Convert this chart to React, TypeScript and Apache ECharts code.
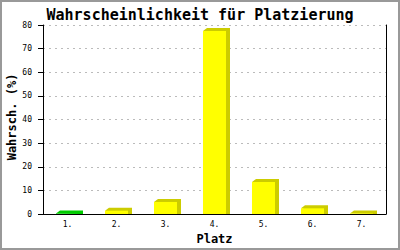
import React, { useEffect, useRef } from "react";
import * as echarts from "echarts";

const categories = ["1.", "2.", "3.", "4.", "5.", "6.", "7."];
const values = [0.2, 1.4, 5.1, 77.5, 13.5, 2.4, 0.2];
const frontColors = ["#00cc00", "#ffff00", "#ffff00", "#ffff00", "#ffff00", "#ffff00", "#ffff00"];
const shadowColors = ["#00cc00", "#cccc00", "#cccc00", "#cccc00", "#cccc00", "#cccc00", "#cccc00"];
const yTicks = { min: 0, max: 80, interval: 10 };

const MONO = "'DejaVu Sans Mono', monospace";

export default function App() {
  const ref = useRef<HTMLDivElement>(null);
  useEffect(() => {
    if (!ref.current) return;
    const chart = echarts.init(ref.current, undefined, { renderer: "svg" });
    const data = values.map((v, i) => [i, v]);
    chart.setOption({
      animation: false,
      backgroundColor: "#ffffff",
      title: {
        text: "Wahrscheinlichkeit für Platzierung",
        left: "center",
        top: 2,
        textStyle: { fontFamily: MONO, fontSize: 15, fontWeight: "bold", color: "#000" },
      },
      grid: { left: 43, right: 14, top: 25, bottom: 36 },
      xAxis: {
        type: "category",
        data: categories,
        axisLine: { show: true, lineStyle: { color: "#000", width: 1 } },
        axisTick: { show: false },
        axisLabel: { fontFamily: MONO, fontSize: 8, color: "#000", margin: 6 },
        name: "Platz",
        nameLocation: "middle",
        nameGap: 16,
        nameTextStyle: { fontFamily: MONO, fontSize: 12, fontWeight: "bold", color: "#000", verticalAlign: "top" },
      },
      yAxis: [
        {
          type: "value",
          min: yTicks.min,
          max: yTicks.max,
          interval: yTicks.interval,
          axisLine: { show: true, lineStyle: { color: "#000", width: 1 } },
          axisTick: { show: true, inside: false, length: 5, lineStyle: { color: "#000" } },
          axisLabel: { fontFamily: MONO, fontSize: 8, color: "#000", margin: 11 },
          splitLine: { show: true, lineStyle: { color: "#bbbbbb", type: [2, 4], width: 1 } },
        },
        {
          type: "value",
          position: "right",
          min: yTicks.min,
          max: yTicks.max,
          interval: yTicks.interval,
          axisLine: { show: true, lineStyle: { color: "#000", width: 1 } },
          axisTick: { show: false },
          axisLabel: { show: false },
          splitLine: { show: false },
        },
      ],
      graphic: [
        {
          type: "rect",
          shape: { x: 1, y: 1, width: 398, height: 248 },
          style: { fill: "none", stroke: "#999999", lineWidth: 2 },
          silent: true,
        },
        {
          type: "text",
          x: 12,
          y: 117,
          rotation: Math.PI / 2,
          style: {
            text: "Wahrsch. (%)",
            fontFamily: MONO,
            fontSize: 12,
            fontWeight: "bold",
            fill: "#000",
            textAlign: "center",
            textVerticalAlign: "middle",
          },
        },
      ],
      series: [
        {
          type: "custom",
          data,
          renderItem: (params: any, api: any) => {
            const idx = api.value(0);
            const v = api.value(1);
            const base = api.coord([idx, 0]);
            const top = api.coord([idx, v]);
            const bw = api.size([1, 0])[0] * 0.47;
            const x0 = base[0] - bw / 2;
            const x1 = base[0] + bw / 2;
            const dx = 4;
            const dy = 3;
            const i = params.dataIndex;
            return {
              type: "group",
              children: [
                {
                  type: "polygon",
                  shape: {
                    points: [
                      [x0, top[1]],
                      [x0 + dx, top[1] - dy],
                      [x1 + dx, top[1] - dy],
                      [x1 + dx, base[1]],
                      [x1, base[1]],
                    ],
                  },
                  style: { fill: shadowColors[i] },
                },
                {
                  type: "rect",
                  shape: { x: x0, y: top[1], width: bw, height: base[1] - top[1] },
                  style: { fill: frontColors[i] },
                },
              ],
            };
          },
        },
      ],
    });
    return () => chart.dispose();
  }, []);
  return <div ref={ref} style={{ position: "absolute", left: 0, top: 0, width: 400, height: 250 }} />;
}
